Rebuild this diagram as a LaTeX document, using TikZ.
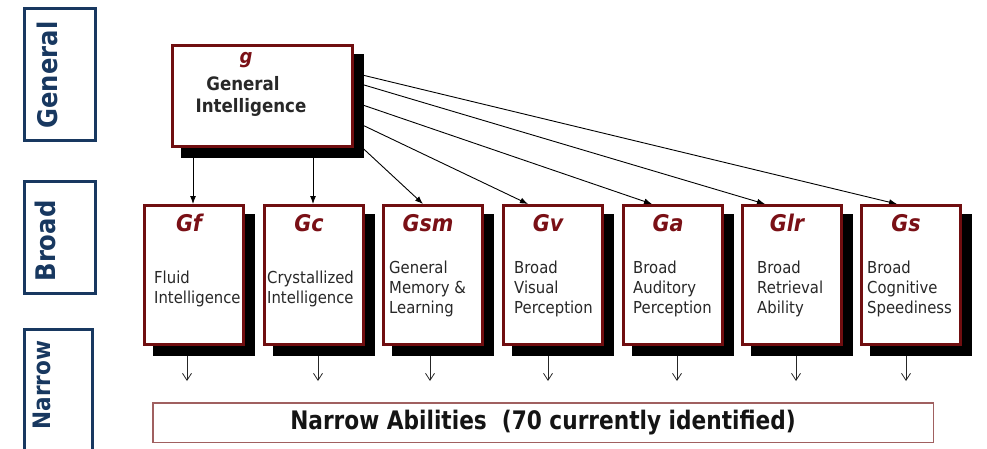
\documentclass[tikz,border=0pt]{standalone}
\usepackage{fontspec}
\setmainfont{DejaVu Sans}
\newfontfamily\tah[FakeStretch=0.9]{DejaVu Sans}
\newfontfamily\cond[FakeStretch=0.85]{DejaVu Sans}
\usetikzlibrary{shadows,calc,arrows.meta,backgrounds}
\definecolor{dred}{RGB}{112,14,16}
\definecolor{tred}{RGB}{122,16,22}
\definecolor{navy}{RGB}{24,56,96}
\definecolor{nbord}{RGB}{160,96,96}
\definecolor{btext}{RGB}{40,40,40}
\begin{document}
\begin{tikzpicture}[x=1pt,y=-1pt,
  redbox/.style={draw=dred, line width=3pt, fill=white, inner sep=0pt,
    drop shadow={shadow xshift=10pt, shadow yshift=-9.5pt, fill=black, draw=black, line width=3pt, opacity=1}},
  broadbox/.style={redbox, minimum width=99pt, minimum height=139pt},
  titletext/.style={font=\tah\bfseries\itshape\fontsize{23}{26}\selectfont, text=tred, anchor=base, inner sep=0pt},
  bodytext/.style={font=\tah\fontsize{16.5}{20}\selectfont, text=btext, align=left, anchor=west, inner sep=0pt},
  gtext/.style={font=\tah\bfseries\fontsize{18.5}{22}\selectfont, text=btext, anchor=base, inner sep=0pt},
  sidebox/.style={draw=navy, line width=3pt, inner sep=0pt},
  sidelabel/.style={font=\tah\bfseries\fontsize{27}{30}\selectfont, text=navy, rotate=90, anchor=base, inner sep=0pt},
  garrow/.style={line width=0.9pt, -{Latex[length=8pt,width=6pt]}},
  narrowarrow/.style={line width=0.8pt, draw=black!85, -{Straight Barb[length=7pt,width=9pt]}}
]
\useasboundingbox (0,0) rectangle (987,448);

% side labels
\node[sidebox, minimum width=71pt, minimum height=132pt] (genbox) at (60,74.5) {};
\node[sidelabel] (gen) at (57,75) {General};
\node[sidebox, minimum width=71pt, minimum height=112pt] (brobox) at (60,237.5) {};
\node[sidelabel] (bro) at (55,241) {Broad};
\node[sidebox, minimum width=68pt, minimum height=139pt] (narbox) at (58.5,399) {};
\node[sidelabel, font=\tah\bfseries\fontsize{24}{28}\selectfont] (nar) at (50,385) {Narrow};

% g box
\node[redbox, minimum width=180pt, minimum height=101pt] (g) at (262.5,96) {};
\node[titletext, font=\tah\bfseries\itshape\fontsize{20}{24}\selectfont] (g-t) at (246,63) {g};
\node[gtext] (g-b1) at (243,90) {General};
\node[gtext] (g-b2) at (251,112) {Intelligence};

% broad boxes
\foreach \n/\l/\t/\b/\p/\o in {
  gf/143/Gf/{Fluid\\Intelligence}/11/44,
  gc/263/Gc/{Crystallized\\Intelligence}/4/55,
  gsm/382/Gsm/{General\\Memory \&\\Learning}/7/48,
  gv/502/Gv/{Broad\\Visual\\Perception}/12/46,
  ga/622/Ga/{Broad\\Auditory\\Perception}/11/55,
  glr/741/Glr/{Broad\\Retrieval\\Ability}/16/55,
  gs/860/Gs/{Broad\\Cognitive\\Speediness}/7/46}{
  \node[broadbox] (\n) at (\l+51,275) {};
  \node[titletext] (\n-t) at (\l+46,231) {\t};
  \node[bodytext] (\n-b) at (\l+\p,289) {\b};
  \coordinate (\n-o) at ($(\n.south west)+(\o,35)$);
  \begin{pgfonlayer}{background}
    \draw[narrowarrow] (\n.south -| \n-o) -- (\n-o);
  \end{pgfonlayer}
}

% narrow abilities
\node[draw=nbord, line width=1.5pt, minimum width=780.5pt, minimum height=39.5pt, inner sep=0pt,
  font=\cond\bfseries\fontsize{25.5}{28}\selectfont, text=black!92] (nab) at (543,422.5)
  {Narrow Abilities\hspace{15pt}(70 currently identified)};

% connectors from g
\coordinate (gf-i) at ($(gf.north west)+(50,0)$);
\coordinate (gc-i) at ($(gc.north west)+(50,0)$);
\coordinate (gsm-i) at ($(gsm.north west)+(41,0)$);
\coordinate (gv-i) at ($(gv.north west)+(26,0)$);
\coordinate (ga-i) at ($(ga.north west)+(30,0)$);
\coordinate (glr-i) at ($(glr.north west)+(24,0)$);
\coordinate (gs-i) at ($(gs.north west)+(37,0)$);
\coordinate (s1) at ($(g.north east)+(0,29)$);
\coordinate (s2) at ($(g.north east)+(0,38)$);
\coordinate (s3) at ($(g.north east)+(0,58)$);
\coordinate (s4) at ($(g.north east)+(0,77)$);
\coordinate (s5) at ($(g.north east)+(0,96)$);
\begin{pgfonlayer}{background}
  \draw[garrow] (g.south -| gf-i) -- (gf-i);
  \draw[garrow] (g.south -| gc-i) -- (gc-i);
  \draw[garrow] (s5) -- (gsm-i);
  \draw[garrow] (s4) -- (gv-i);
  \draw[garrow] (s3) -- (ga-i);
  \draw[garrow] (s2) -- (glr-i);
  \draw[garrow] (s1) -- (gs-i);
\end{pgfonlayer}
\end{tikzpicture}
\end{document}
